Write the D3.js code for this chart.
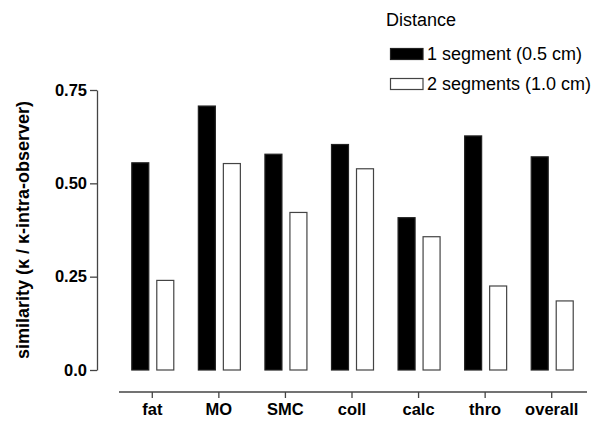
<!DOCTYPE html>
<html><head><meta charset="utf-8">
<script src="https://cdn.jsdelivr.net/npm/d3@7"></script>
<style>body{margin:0;background:#fff;} svg{display:block;font-family:Arial,"Liberation Sans",Helvetica,sans-serif;}</style>
</head><body>
<script>
const categories = ["fat","MO","SMC","coll","calc","thro","overall"];
const seriesNames = ["1 segment (0.5 cm)","2 segments (1.0 cm)"];
const seg1 = [0.555,0.707,0.578,0.604,0.408,0.627,0.571];
const seg2 = [0.240,0.553,0.422,0.539,0.357,0.225,0.185];
const yTicks = [0.0,0.25,0.5,0.75];
const yTickLabels = ["0.0","0.25","0.50","0.75"];

const W=606,H=421;
const svg=d3.select("body").append("svg").attr("width",W).attr("height",H);
const y=d3.scaleLinear().domain([0,0.75]).range([370,90]);
const x=d3.scaleBand().domain(categories).range([119,585]).padding(0);
const x1=d3.scaleBand().domain([0,1]).range([-20.5,21.5]).paddingInner(0.32).paddingOuter(0);
const data=[seg1,seg2];
const axisColor="#444";

// bars
const g=svg.append("g");
categories.forEach((c,i)=>{
  data.forEach((s,j)=>{
    g.append("rect")
      .attr("x",x(c)+x.bandwidth()/2+x1(j))
      .attr("y",y(s[i]))
      .attr("width",x1.bandwidth())
      .attr("height",y(0)-y(s[i]))
      .attr("fill",j===0?"#000":"#fff")
      .attr("stroke",j===0?"#222":"#444")
      .attr("stroke-width",1.2);
  });
});

// y axis
const ya=svg.append("g").attr("transform","translate(97,0)")
  .call(d3.axisLeft(y).tickValues(yTicks).tickFormat((d,i)=>yTickLabels[i]).tickSize(7).tickSizeOuter(0).tickPadding(3));
ya.select(".domain").attr("stroke",axisColor).attr("stroke-width",1.3);
ya.selectAll(".tick line").attr("stroke",axisColor).attr("stroke-width",1.3);
ya.selectAll(".tick text").attr("font-size","16.5px").attr("font-weight","bold").attr("fill","#000").attr("font-family","Arial, Liberation Sans, sans-serif");

// x axis
const xa=svg.append("g").attr("transform","translate(0,392)")
  .call(d3.axisBottom(x).tickSize(6).tickSizeOuter(0).tickPadding(5));
xa.select(".domain").attr("d","M119,0H587").attr("stroke",axisColor).attr("stroke-width",1.3);
xa.selectAll(".tick line").attr("stroke",axisColor).attr("stroke-width",1.3);
xa.selectAll(".tick text").attr("font-size","16.5px").attr("font-weight","bold").attr("fill","#000").attr("font-family","Arial, Liberation Sans, sans-serif");

// y title
svg.append("text").attr("transform","translate(29,230) rotate(-90)")
  .attr("text-anchor","middle").attr("font-size","18px").attr("font-weight","bold")
  .text("similarity (κ / κ-intra-observer)");

// legend
svg.append("text").attr("x",386).attr("y",25.5).attr("font-size","18px").text("Distance");
seriesNames.forEach((n,j)=>{
  svg.append("rect").attr("x",390.5).attr("y",48.5+j*30).attr("width",32.5).attr("height",11)
    .attr("fill",j===0?"#000":"#fff").attr("stroke",j===0?"#222":"#444").attr("stroke-width",1.2);
  svg.append("text").attr("x",427).attr("y",60+j*30).attr("font-size","18px").text(n);
});
</script>
</body></html>
